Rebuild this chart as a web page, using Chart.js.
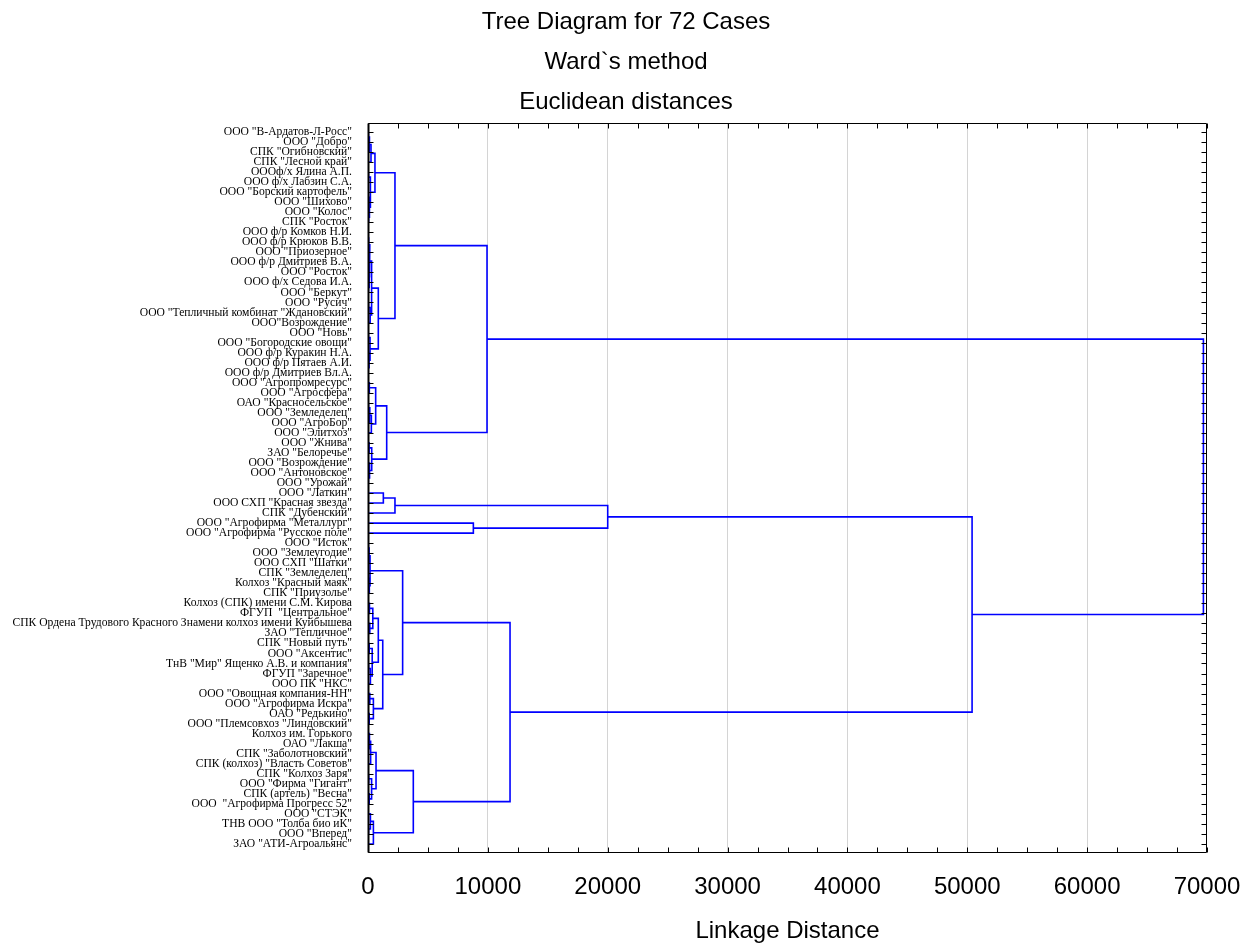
<!DOCTYPE html>
<html>
<head>
<meta charset="utf-8">
<script src="https://cdn.jsdelivr.net/npm/chart.js@4.4.0/dist/chart.umd.min.js"></script>
<style>
  html, body { margin: 0; background: #fff; }
</style>
</head>
<body>
<canvas id="tree" width="1252" height="946"></canvas>
<script>
const titleLines = ['Tree Diagram for 72 Cases', 'Ward`s method', 'Euclidean distances'];

const caseLabels = [
  'ООО "В-Ардатов-Л-Росс"', 'ООО "Добро"', 'СПК "Огибновский"', 'СПК "Лесной край"',
  'ОООф/х Ялина А.П.', 'ООО ф/х Лабзин С.А.', 'ООО "Борский картофель"', 'ООО "Шихово"',
  'ООО "Колос"', 'СПК "Росток"', 'ООО ф/р Комков Н.И.', 'ООО ф/р Крюков В.В.',
  'ООО "Приозерное"', 'ООО ф/р Дмитриев В.А.', 'ООО "Росток"', 'ООО ф/х Седова И.А.',
  'ООО "Беркут"', 'ООО "Русич"', 'ООО "Тепличный комбинат "Ждановский"', 'ООО"Возрождение"',
  'ООО "Новь"', 'ООО "Богородские овощи"', 'ООО ф/р Куракин Н.А.', 'ООО ф/р Пятаев А.И.',
  'ООО ф/р Дмитриев Вл.А.', 'ООО "Агропромресурс"', 'ООО "Агросфера"', 'ОАО "Красносельское"',
  'ООО "Земледелец"', 'ООО "АгроБор"', 'ООО "Элитхоз"', 'ООО "Жнива"',
  'ЗАО "Белоречье"', 'ООО "Возрождение"', 'ООО "Антоновское"', 'ООО "Урожай"',
  'ООО "Латкин"', 'ООО СХП "Красная звезда"', 'СПК "Дубенский"', 'ООО "Агрофирма "Металлург"',
  'ООО "Агрофирма "Русское поле"', 'ООО "Исток"', 'ООО "Землеугодие"', 'ООО СХП "Шатки"',
  'СПК "Земледелец"', 'Колхоз "Красный маяк"', 'СПК "Приузолье"', 'Колхоз (СПК) имени С.М. Кирова',
  'ФГУП  "Центральное"', 'СПК Ордена Трудового Красного Знамени колхоз имени Куйбышева', 'ЗАО "Тепличное"', 'СПК "Новый путь"',
  'ООО "Аксентис"', 'ТнВ "Мир" Ященко А.В. и компания"', 'ФГУП "Заречное"', 'ООО ПК "НКС"',
  'ООО "Овощная компания-НН"', 'ООО "Агрофирма Искра"', 'ОАО "Редькино"', 'ООО "Племсовхоз "Линдовский"',
  'Колхоз им. Горького', 'ОАО "Лакша"', 'СПК "Заболотновский"', 'СПК (колхоз) "Власть Советов"',
  'СПК "Колхоз Заря"', 'ООО "Фирма "Гигант"', 'СПК (артель) "Весна"', 'ООО  "Агрофирма Прогресс 52"',
  'ООО "СТЭК"', 'ТНВ ООО "Толба био иК"', 'ООО "Вперед"', 'ЗАО "АТИ-Агроальянс"'
];

const xTicks = [0, 10000, 20000, 30000, 40000, 50000, 60000, 70000];
const minorStep = 2500;

// each merge joins rows [from .. split-1] with rows [split .. to] at the given linkage distance
const mergeFrom  = [0, 0, 0, 0, 0, 0, 0, 4, 4, 6, 6, 8, 10, 10, 10, 10, 10, 13, 13, 15, 17, 17, 20, 20, 22, 23,
  25, 25, 25, 27, 27, 27, 31, 31, 33, 34, 36, 36, 36, 36, 39, 41, 41, 41, 41, 41, 44, 44, 47, 47, 47, 47, 49,
  51, 51, 53, 53, 56, 56, 58, 60, 60, 60, 60, 61, 64, 64, 66, 68, 68, 69];
const mergeSplit = [36, 25, 10, 4, 3, 2, 1, 6, 5, 8, 7, 9, 20, 17, 13, 12, 11, 15, 14, 16, 19, 18, 22, 21, 23, 24,
  31, 27, 26, 30, 29, 28, 33, 32, 34, 35, 41, 39, 38, 37, 40, 60, 47, 44, 43, 42, 46, 45, 56, 51, 49, 48, 50,
  53, 52, 55, 54, 58, 57, 59, 68, 64, 63, 61, 62, 66, 65, 67, 71, 69, 70];
const mergeTo    = [71, 35, 24, 9, 3, 2, 1, 9, 5, 9, 7, 9, 24, 19, 16, 12, 11, 16, 14, 16, 19, 18, 24, 21, 24, 24,
  35, 30, 26, 30, 29, 28, 35, 32, 35, 35, 71, 40, 38, 37, 40, 71, 59, 46, 43, 42, 46, 45, 59, 55, 50, 48, 50,
  55, 52, 55, 54, 59, 57, 59, 71, 67, 63, 62, 62, 67, 65, 67, 71, 70, 70];
const mergeDist  = [69700, 9930, 2250, 580, 250, 120, 50, 200, 60, 120, 40, 70, 860, 300, 150, 80, 30, 100, 40, 50, 180, 60, 170, 50, 90, 30,
  1560, 640, 110, 280, 150, 60, 310, 90, 130, 40, 50400, 20000, 2250, 1280, 8790, 11850, 2890, 170, 90, 40, 110, 50, 1230, 860, 400, 120, 150,
  350, 100, 200, 70, 450, 150, 100, 3780, 670, 220, 120, 50, 300, 80, 100, 450, 200, 60];

const mergeAt = {};
mergeFrom.forEach((a, i) => { mergeAt[a + ':' + mergeTo[i]] = i; });

// a cluster sits midway between its two sub-clusters
function clusterPos(a, b) {
  if (a === b) return { y: a, h: 0 };
  const i = mergeAt[a + ':' + b];
  const l = clusterPos(a, mergeSplit[i] - 1);
  const r = clusterPos(mergeSplit[i], b);
  return { y: (l.y + r.y) / 2, h: mergeDist[i] };
}

const datasets = mergeFrom.map((a, i) => {
  const l = clusterPos(a, mergeSplit[i] - 1);
  const r = clusterPos(mergeSplit[i], mergeTo[i]);
  return {
    data: [
      { x: l.h, y: l.y }, { x: mergeDist[i], y: l.y },
      { x: mergeDist[i], y: r.y }, { x: r.h, y: r.y }
    ],
    showLine: true,
    borderColor: '#0000ff',
    borderWidth: 1.6,
    pointRadius: 0,
    fill: false,
    tension: 0
  };
});

// frame with inward tick marks, like the original plot
const frameTicks = {
  id: 'frameTicks',
  afterDraw(chart) {
    const { ctx, chartArea: a, scales: { x, y } } = chart;
    const L = Math.round(a.left) + 0.5, R = Math.round(a.right) - 0.5;
    const T = Math.round(a.top) + 0.5, B = Math.round(a.bottom) - 0.5;
    ctx.save();
    ctx.strokeStyle = '#000';
    ctx.lineWidth = 1;
    ctx.beginPath();
    ctx.rect(L, T, R - L, B - T);
    for (let v = 0; v <= 70000; v += minorStep) {
      const px = Math.round(x.getPixelForValue(v)) + 0.5;
      ctx.moveTo(px, B); ctx.lineTo(px, B - 5);
      ctx.moveTo(px, T); ctx.lineTo(px, T + 5);
    }
    caseLabels.forEach((_, i) => {
      const py = Math.round(y.getPixelForValue(i)) + 0.5;
      ctx.moveTo(L, py); ctx.lineTo(L + 5, py);
      ctx.moveTo(R, py); ctx.lineTo(R - 5, py);
    });
    ctx.stroke();
    ctx.lineWidth = 2;
    ctx.beginPath();
    ctx.moveTo(L, T); ctx.lineTo(L, B);
    ctx.stroke();
    ctx.restore();
  }
};

new Chart(document.getElementById('tree'), {
  type: 'scatter',
  data: { datasets },
  options: {
    responsive: false,
    animation: false,
    layout: { padding: 0 },
    plugins: {
      legend: { display: false },
      tooltip: { enabled: false },
      title: {
        display: true,
        text: titleLines,
        color: '#000',
        font: { family: 'Liberation Sans', size: 24, weight: 'normal', lineHeight: 40 / 24 },
        padding: { top: 2, bottom: 1 }
      }
    },
    scales: {
      x: {
        type: 'linear',
        min: 0,
        max: 70000,
        afterBuildTicks: s => { s.ticks = xTicks.map(v => ({ value: v })); },
        afterFit: s => { s.height = 93; },
        ticks: {
          color: '#000',
          padding: 0,
          maxRotation: 0,
          font: { family: 'Liberation Sans', size: 24 },
          callback: v => String(v)
        },
        grid: {
          drawTicks: true,
          tickLength: 20,
          tickColor: 'rgba(0,0,0,0)',
          lineWidth: 1,
          color: c => (c.tick && (c.tick.value === 0 || c.tick.value === 70000)) ? 'rgba(0,0,0,0)' : '#d4d4d4'
        },
        border: { display: false },
        title: {
          display: true,
          text: 'Linkage Distance',
          color: '#000',
          font: { family: 'Liberation Sans', size: 24 },
          padding: { top: 0, bottom: 0 }
        }
      },
      y: {
        type: 'linear',
        min: -0.9,
        max: 71.9,
        reverse: true,
        afterBuildTicks: s => { s.ticks = caseLabels.map((_, i) => ({ value: i })); },
        afterFit: s => { s.width = 368; },
        ticks: {
          autoSkip: false,
          color: '#000',
          padding: 16,
          font: { family: 'Liberation Serif', size: 11.6 },
          callback: v => caseLabels[v]
        },
        grid: { display: false, drawTicks: false },
        border: { display: false }
      },
      yRight: {
        position: 'right',
        afterFit: s => { s.width = 45; },
        ticks: { display: false },
        grid: { display: false, drawTicks: false },
        border: { display: false }
      }
    }
  },
  plugins: [frameTicks]
});
</script>
</body>
</html>
